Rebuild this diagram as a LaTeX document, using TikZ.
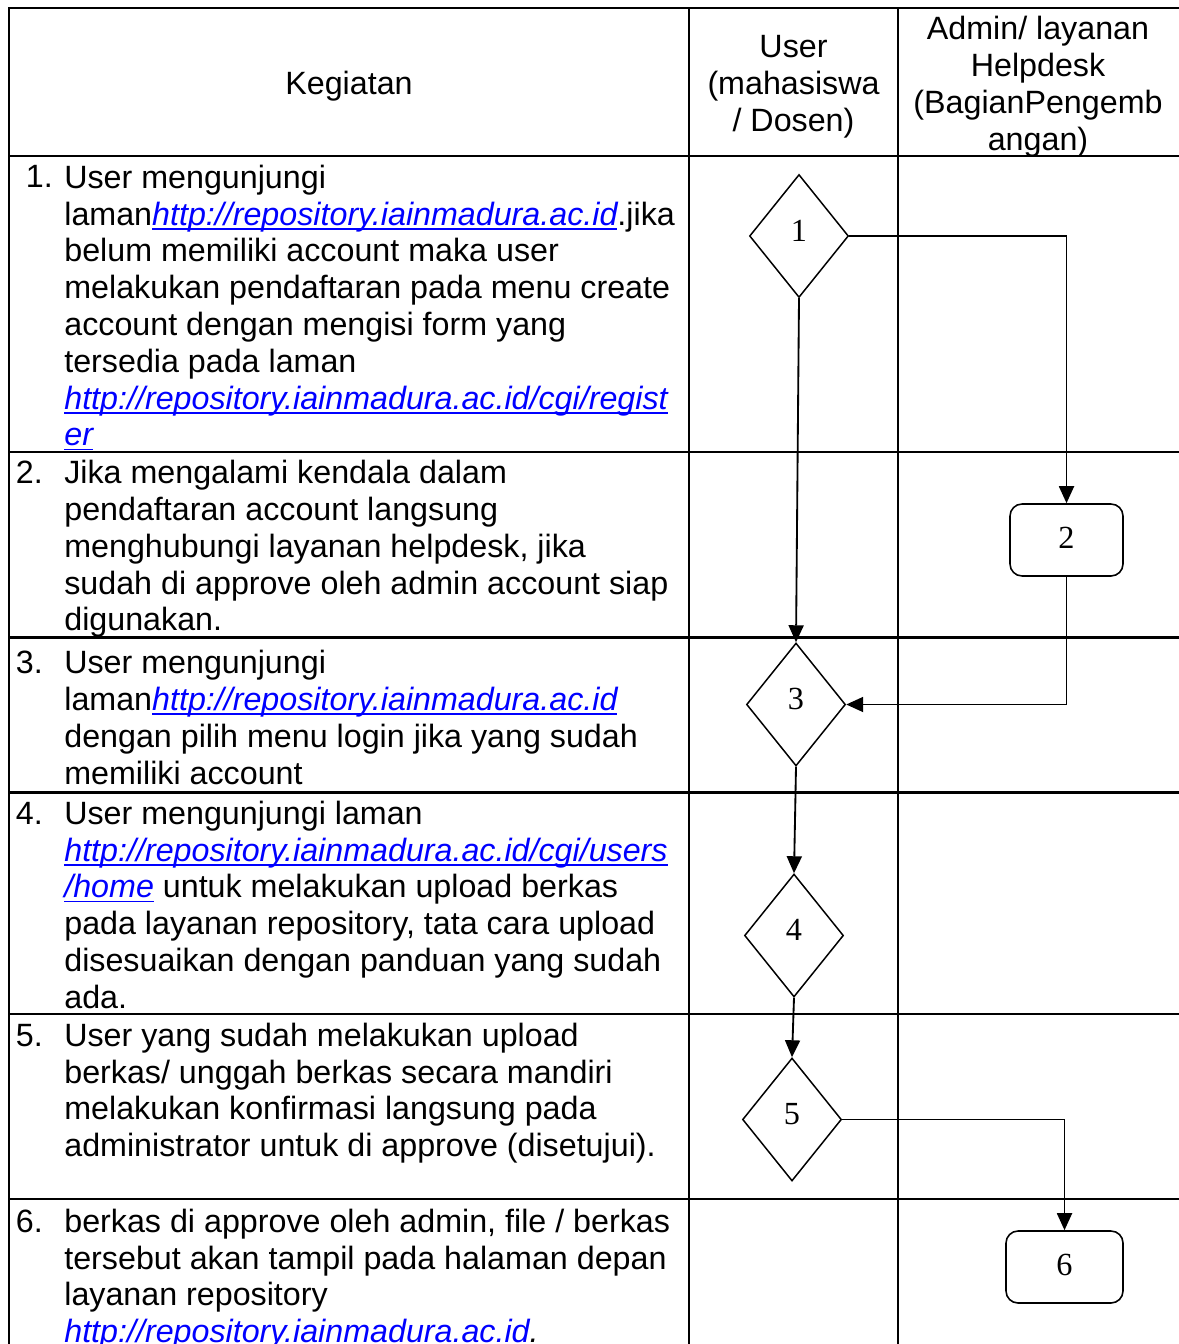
\documentclass[tikz,border=0pt]{standalone}
\usepackage{fontspec}
\setmainfont{Liberation Sans}
\newfontfamily\digitfont{Liberation Serif}
\usetikzlibrary{positioning,arrows.meta,shapes.geometric}
\definecolor{linkblue}{HTML}{0000FF}
\newsavebox{\lnkbox}
\newcommand{\bodysize}{\fontsize{18.35pt}{20.94pt}\selectfont}
\newcommand{\lnk}[1]{\textcolor{linkblue}{\itshape\sbox{\lnkbox}{#1}%
  \rlap{\rule[-2.6pt]{\wd\lnkbox}{1pt}}\usebox{\lnkbox}}}

\begin{document}
\begin{tikzpicture}[
  x=0.02cm, y=-0.02cm,
  font=\bodysize,
  grid/.style={line width=1.15pt, line cap=rect},
  cell/.style={anchor=north west, align=left, inner sep=0pt},
  num/.style={anchor=base west, inner sep=0pt},
  head/.style={align=center, inner sep=0pt},
  decide/.style={draw, diamond, line width=0.85pt, inner sep=0pt,
                 minimum width=1.98cm, minimum height=2.46cm,
                 font=\digitfont\bodysize, text height=12.4pt, text depth=6.4pt},
  proc/.style={draw, rounded corners=0.24cm, line width=0.9pt, inner sep=0pt,
               minimum height=1.44cm, font=\digitfont\bodysize,
               text height=12.4pt, text depth=2.7pt},
  arr/.style={-{Triangle[length=0.34cm, width=0.3cm]}, line width=1.05pt},
]
\useasboundingbox (0,0) rectangle (1178,1344);

\foreach \y in {8,156,452,637.5,792.5,1014,1199}
  \draw[grid] (9,\y) -- (1178,\y);
\foreach \x in {9,689,898}
  \draw[grid] (\x,8) -- (\x,1344);

\node[head] (hk) at (349,86.5) {Kegiatan};
\node[head] (hu) at (793.5,86.5) {User\\(mahasiswa\\/ Dosen)};
\node[head] (ha) at (1038,86.5) {Admin/ layanan\\Helpdesk\\(BagianPengemb\\angan)};

\node[num] (n1) at (25.5,188) {1.};
\node[cell] (k1) at (64,162.2) {\strut User mengunjungi\\
  laman\lnk{http://repository.iainmadura.ac.id}.jika\\
  belum memiliki account maka user\\
  melakukan pendaftaran pada menu create\\
  account dengan mengisi form yang\\
  tersedia pada laman\\
  \lnk{http://repository.iainmadura.ac.id/cgi/regist}\\
  \lnk{er}};

\node[num] (n2) at (15.5,483.5) {2.};
\node[cell] (k2) at (64,457.7) {\strut Jika mengalami kendala dalam\\
  pendaftaran account langsung\\
  menghubungi layanan helpdesk, jika\\
  sudah di approve oleh admin account siap\\
  digunakan.};

\node[num] (n3) at (15.5,673.5) {3.};
\node[cell] (k3) at (64,647.7) {\strut User mengunjungi\\
  laman\lnk{http://repository.iainmadura.ac.id}\\
  dengan pilih menu login jika yang sudah\\
  memiliki account};

\node[num] (n4) at (15.5,824) {4.};
\node[cell] (k4) at (64,798.2) {\strut User mengunjungi laman\\
  \lnk{http://repository.iainmadura.ac.id/cgi/users}\\
  \lnk{/home} untuk melakukan upload berkas\\
  pada layanan repository, tata cara upload\\
  disesuaikan dengan panduan yang sudah\\
  ada.};

\node[num] (n5) at (15.5,1046) {5.};
\node[cell] (k5) at (64,1020.2) {\strut User yang sudah melakukan upload\\
  berkas/ unggah berkas secara mandiri\\
  melakukan konfirmasi langsung pada\\
  administrator untuk di approve (disetujui).};

\node[num] (n6) at (15.5,1232) {6.};
\node[cell] (k6) at (64,1206.2) {\strut berkas di approve oleh admin, file / berkas\\
  tersebut akan tampil pada halaman depan\\
  layanan repository\\
  \textcolor{linkblue}{\itshape http://repository.iainmadura.ac.id}\textit{.}};

\node[decide] (d1) at (799,236) {1};
\node[decide] (d3) at (796,704.5) {3};
\node[decide] (d4) at (794,935.5) {4};
\node[decide] (d5) at (792,1119.5) {5};
\node[proc, minimum width=2.26cm] (b2) at (1066.5,540) {2};
\node[proc, minimum width=2.34cm] (b6) at (1064.5,1267) {6};

\draw[arr] (d1.east) -| (b2.north);
\draw[arr] (d1.south) -- (d3.north);
\draw[arr] (b2.south) |- (d3.east);
\draw[arr] (d3.south) -- (d4.north);
\draw[arr] (d4.south) -- (d5.north);
\draw[arr] (d5.east) -| (b6.north);
\end{tikzpicture}
\end{document}
